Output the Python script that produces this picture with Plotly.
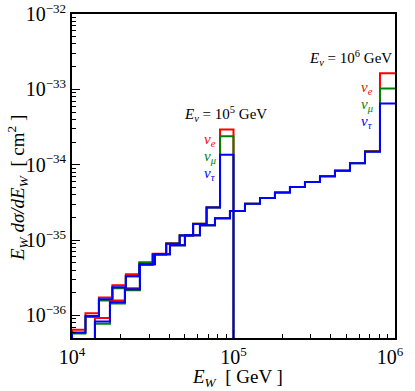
import plotly.graph_objects as go

# bin edges [GeV]
edges_1e5 = [1.0e4, 1.212e4, 1.468e4, 1.778e4, 2.154e4, 2.610e4, 3.162e4,
             3.831e4, 4.642e4, 5.623e4, 6.813e4, 8.254e4, 1.0e5]
edges_1e6 = [1.387e4, 1.718e4, 2.127e4, 2.634e4, 3.263e4, 4.042e4, 5.004e4,
             6.199e4, 7.679e4, 9.508e4, 1.178e5, 1.459e5, 1.806e5, 2.237e5,
             2.771e5, 3.431e5, 4.250e5, 5.264e5, 6.520e5, 8.074e5, 1.0e6]

# E_nu = 1e5 GeV  [cm^2]
nue_1e5 = [6.46e-37, 1.064e-36, 1.734e-36, 2.506e-36, 3.51e-36, 4.91e-36,
           6.56e-36, 9.06e-36, 1.156e-35, 1.644e-35, 2.72e-35, 2.94e-34]
numu_1e5 = [5.77e-37, 9.55e-37, 1.58e-36, 2.286e-36, 3.30e-36, 5.06e-36,
            6.50e-36, 9.00e-36, 1.15e-35, 1.64e-35, 2.71e-35, 2.39e-34]
nutau_1e5 = [5.94e-37, 9.84e-37, 1.633e-36, 2.355e-36, 3.30e-36, 4.69e-36,
             6.45e-36, 8.95e-36, 1.15e-35, 1.63e-35, 2.70e-35, 1.36e-34]

# E_nu = 1e6 GeV  [cm^2]
nue_1e6 = [9.26e-37, 1.58e-36, 2.29e-36, 4.80e-36, 6.50e-36, 8.55e-36,
           1.16e-35, 1.57e-35, 1.95e-35, 2.43e-35, 3.03e-35, 3.62e-35,
           4.27e-35, 5.07e-35, 5.90e-35, 7.03e-35, 8.35e-35, 1.05e-34,
           1.525e-34, 1.63e-33]
numu_1e6 = [7.76e-37, 1.44e-36, 2.15e-36, 4.76e-36, 6.47e-36, 8.51e-36,
            1.156e-35, 1.57e-35, 1.95e-35, 2.43e-35, 3.03e-35, 3.62e-35,
            4.27e-35, 5.07e-35, 5.90e-35, 7.03e-35, 8.32e-35, 1.047e-34,
            1.50e-34, 1.03e-33]
nutau_1e6 = [8.32e-37, 1.49e-36, 2.22e-36, 4.76e-36, 6.47e-36, 8.51e-36,
             1.156e-35, 1.57e-35, 1.95e-35, 2.43e-35, 3.03e-35, 3.62e-35,
             4.27e-35, 5.07e-35, 5.90e-35, 7.03e-35, 8.32e-35, 1.047e-34,
             1.48e-34, 6.50e-34]

x_ticks = [1e4, 1e5, 1e6]
x_exps = ["4", "5", "6"]
y_ticks = [1e-36, 1e-35, 1e-34, 1e-33, 1e-32]
y_exps = ["−36", "−35", "−34", "−33", "−32"]

FLOOR = 1e-38
COLORS = {"nue": "#ff0000", "numu": "#008000", "nutau": "#0000ff"}
FONT = "Liberation Serif, Times New Roman, serif"


def pow10(e, pad=""):
    # pad: invisible trailing text so the last x label sits inside the frame
    txt = f"10<sup><span style='font-size:13px'>{e}</span></sup>"
    if pad:
        txt += f"<span style='color:rgba(0,0,0,0)'>{pad}</span>"
    return txt


def step_xy(edges, vals, drop_end=True):
    """Points for an hv-stepped histogram outline."""
    x = [edges[0]] + list(edges[:-1]) + [edges[-1]]
    y = [FLOOR] + list(vals) + [vals[-1]]
    if drop_end:
        x.append(edges[-1])
        y.append(FLOOR)
    return x, y


fig = go.Figure()

for name, edges, vals, drop in [
    ("nue", edges_1e5, nue_1e5, True),
    ("numu", edges_1e5, numu_1e5, True),
    ("nue", edges_1e6, nue_1e6, False),
    ("numu", edges_1e6, numu_1e6, False),
    ("nutau", edges_1e5, nutau_1e5, True),
    ("nutau", edges_1e6, nutau_1e6, False),
]:
    x, y = step_xy(edges, vals, drop)
    fig.add_trace(go.Scatter(
        x=x, y=y, mode="lines", line=dict(color=COLORS[name], width=2, shape="hv"),
        showlegend=False, hoverinfo="skip",
    ))

L, R, T, B = 72, 20, 14, 53
W, H = 415, 391
ann = [
    (225, 114, "<i>E<sub>ν</sub></i> = 10<sup>5</sup> GeV", "black", 15, 0),
    (210, 140, "<i>ν<sub>e</sub></i>", COLORS["nue"], 15, 0),
    (210, 157, "<i>ν<sub>μ</sub></i>", COLORS["numu"], 15, 0),
    (210, 174, "<i>ν<sub>τ</sub></i>", COLORS["nutau"], 15, 0),
    (350, 58, "<i>E<sub>ν</sub></i> = 10<sup>6</sup> GeV", "black", 15, 0),
    (367, 88, "<i>ν<sub>e</sub></i>", COLORS["nue"], 15, 0),
    (367, 105, "<i>ν<sub>μ</sub></i>", COLORS["numu"], 15, 0),
    (367, 122, "<i>ν<sub>τ</sub></i>", COLORS["nutau"], 15, 0),
    # axis titles
    (237, 378, "<i>E<sub>W</sub></i>  [ GeV ]", "black", 19, 0),
    (17, 188, "<i>E<sub>W</sub> dσ/dE<sub>W</sub></i>  [ cm<sup>2</sup> ]", "black", 19, -90),
]
for px, py, txt, col, fs, ang in ann:
    fig.add_annotation(
        x=(px - L) / (W - L - R), y=1 - (py - T) / (H - T - B),
        xref="paper", yref="paper", text=txt, showarrow=False, textangle=ang,
        font=dict(family=FONT, size=fs, color=col), xanchor="center", yanchor="middle",
    )

axis_common = dict(
    type="log", showgrid=False, zeroline=False, showline=True, linecolor="black",
    linewidth=2, mirror=True, ticks="inside", ticklen=8, tickwidth=1.3, tickcolor="black",
    tickfont=dict(family=FONT, size=20, color="black"), tickmode="array",
    minor=dict(ticks="inside", ticklen=4, tickwidth=1, tickcolor="black", dtick="D1", showgrid=False),
    automargin=False, ticklabeloverflow="allow",
)

fig.update_xaxes(
    range=[4, 6.0001], tickvals=x_ticks,
    ticktext=[pow10(e, "0" if e == "6" else "") for e in x_exps],
    **axis_common,
)
fig.update_yaxes(
    range=[-36.3, -31.9999], tickvals=y_ticks, ticktext=[pow10(e) for e in y_exps],
    **axis_common,
)

fig.update_layout(
    width=W, height=H, margin=dict(l=L, r=R, t=T, b=B),
    plot_bgcolor="white", paper_bgcolor="white", showlegend=False,
)

fig.write_html(
    "out.html",
    config={"displayModeBar": False},
    post_script="document.body.style.margin = '0';",
)
